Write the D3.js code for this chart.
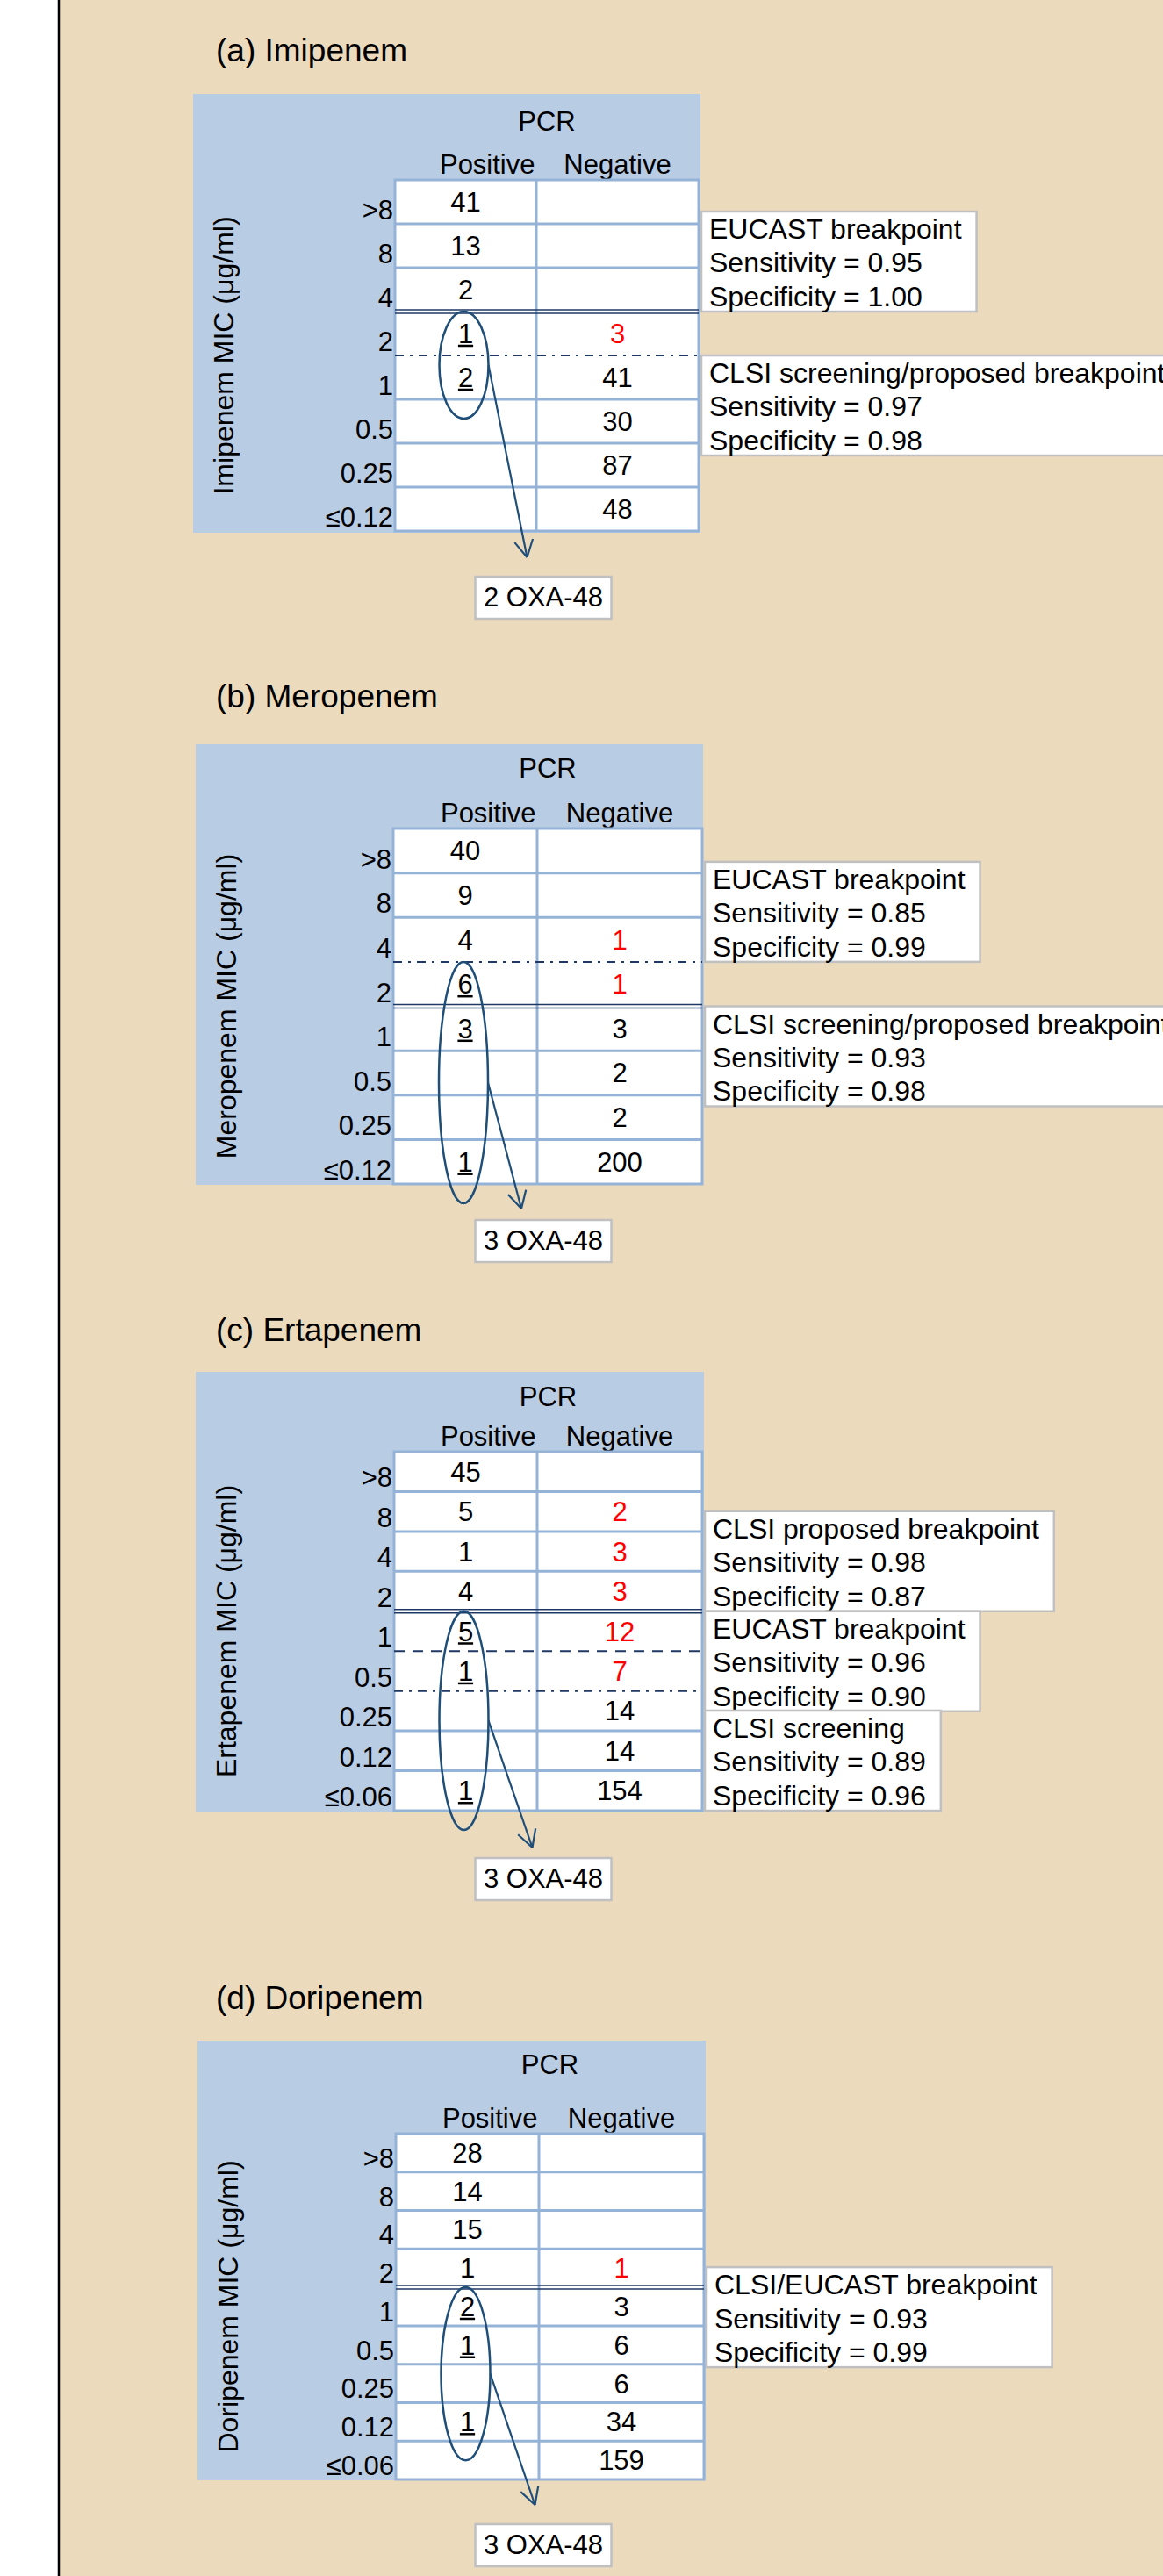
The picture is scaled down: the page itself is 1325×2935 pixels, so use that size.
<!DOCTYPE html>
<html>
<head>
<meta charset="utf-8">
<script src="https://cdn.jsdelivr.net/npm/d3@7"></script>
<style>
  body { margin: 0; background: #fff; }
  svg { display: block; }
  text { font-family: "Liberation Sans", Arial, sans-serif; fill: #000; }
</style>
</head>
<body>
<div id="chart"></div>
<script>
// ---- data ----
const columns = ["Positive", "Negative"];

const micHigh = [">8", "8", "4", "2", "1", "0.5", "0.25", "≤0.12"];
const micLow = [">8", "8", "4", "2", "1", "0.5", "0.25", "0.12", "≤0.06"];

const imipenemPos = [41, 13, 2, 1, 2, null, null, null];
const imipenemNeg = [null, null, null, 3, 41, 30, 87, 48];
const imipenemMarked = [0, 0, 0, 1, 1, 0, 0, 0];

const meropenemPos = [40, 9, 4, 6, 3, null, null, 1];
const meropenemNeg = [null, null, 1, 1, 3, 2, 2, 200];
const meropenemMarked = [0, 0, 0, 1, 1, 0, 0, 1];

const ertapenemPos = [45, 5, 1, 4, 5, 1, null, null, 1];
const ertapenemNeg = [null, 2, 3, 3, 12, 7, 14, 14, 154];
const ertapenemMarked = [0, 0, 0, 0, 1, 1, 0, 0, 1];

const doripenemPos = [28, 14, 15, 1, 2, 1, null, 1, null];
const doripenemNeg = [null, null, null, 1, 3, 6, 6, 34, 159];
const doripenemMarked = [0, 0, 0, 0, 1, 1, 0, 1, 0];

// breakpoint line sits on top of the row "above"
const imipenemBreaks = [
  { above: "2", style: "double", label: "EUCAST breakpoint", sens: "0.95", spec: "1.00" },
  { above: "1", style: "dashdot", label: "CLSI screening/proposed breakpoint", sens: "0.97", spec: "0.98" }
];
const meropenemBreaks = [
  { above: "2", style: "dashdot", label: "EUCAST breakpoint", sens: "0.85", spec: "0.99" },
  { above: "1", style: "double", label: "CLSI screening/proposed breakpoint", sens: "0.93", spec: "0.98" }
];
const ertapenemBreaks = [
  { above: "1", style: "double", label: "CLSI proposed breakpoint", sens: "0.98", spec: "0.87" },
  { above: "0.5", style: "dashed", label: "EUCAST breakpoint", sens: "0.96", spec: "0.90" },
  { above: "0.25", style: "dashdot", label: "CLSI screening", sens: "0.89", spec: "0.96" }
];
const doripenemBreaks = [
  { above: "1", style: "double", label: "CLSI/EUCAST breakpoint", sens: "0.93", spec: "0.99" }
];

const oxaCounts = [2, 3, 3, 3];

const panels = [
  { title: "(a) Imipenem", drug: "Imipenem", mic: micHigh, pos: imipenemPos, neg: imipenemNeg, marked: imipenemMarked, breaks: imipenemBreaks, oxa: oxaCounts[0] },
  { title: "(b) Meropenem", drug: "Meropenem", mic: micHigh, pos: meropenemPos, neg: meropenemNeg, marked: meropenemMarked, breaks: meropenemBreaks, oxa: oxaCounts[1] },
  { title: "(c) Ertapenem", drug: "Ertapenem", mic: micLow, pos: ertapenemPos, neg: ertapenemNeg, marked: ertapenemMarked, breaks: ertapenemBreaks, oxa: oxaCounts[2] },
  { title: "(d) Doripenem", drug: "Doripenem", mic: micLow, pos: doripenemPos, neg: doripenemNeg, marked: doripenemMarked, breaks: doripenemBreaks, oxa: oxaCounts[3] }
];

// ---- layout ----
const W = 1325, H = 2935;
const BEIGE = "#ecdabd", BLUE = "#b8cce4", GRID = "#95b3d7", NAVY = "#1f3864", INK = "#1f4e79";

const layout = [
  { titleY: 70, boxLeft: 220, boxRight: 798, boxTop: 107, boxBottom: 607, left: 450, mid: 611, right: 796,
    tableTop: 205, tableBottom: 605, pcrY: 149, headY: 198, arrowDx: 72, arrowDy: 30, oxaTop: 657,
    notes: [{ ref: 0, align: "bottom" }, { ref: 1, align: "top" }] },
  { titleY: 806, boxLeft: 223, boxRight: 801, boxTop: 848, boxBottom: 1350, left: 448, mid: 612, right: 800,
    tableTop: 944, tableBottom: 1349, pcrY: 886, headY: 937, arrowDx: 66, arrowDy: 28, oxaTop: 1390,
    notes: [{ ref: 0, align: "bottom" }, { ref: 1, align: "top" }] },
  { titleY: 1528, boxLeft: 223, boxRight: 802, boxTop: 1563, boxBottom: 2064, left: 449, mid: 612, right: 800,
    tableTop: 1654, tableBottom: 2063, pcrY: 1602, headY: 1647, arrowDx: 78, arrowDy: 42, oxaTop: 2117,
    notes: [{ ref: 0, align: "bottom" }, { ref: 0, align: "top" }, { ref: "end", align: "bottom" }] },
  { titleY: 2289, boxLeft: 225, boxRight: 804, boxTop: 2325, boxBottom: 2826, left: 451, mid: 614, right: 802,
    tableTop: 2431, tableBottom: 2825, pcrY: 2363, headY: 2424, arrowDx: 79, arrowDy: 29, oxaTop: 2876,
    notes: [{ ref: 0, align: "top", shift: -23 }] }
];

const FS = 31, NOTE_FS = 32, TITLE_FS = 37, AXIS_FS = 32, LINE_H = 38.4, NOTE_H = 114;

const svg = d3.select("#chart").append("svg")
  .attr("width", W)
  .attr("height", H);

svg.append("rect").attr("width", W).attr("height", H).attr("fill", "#fff");
svg.append("rect").attr("x", 67).attr("width", W - 67).attr("height", H).attr("fill", BEIGE);
svg.append("line")
  .attr("x1", 67).attr("x2", 67).attr("y1", 0).attr("y2", H)
  .attr("stroke", "#000").attr("stroke-width", 2.5);

function hline(g, x1, x2, yy, style) {
  if (style === "double") {
    [-2, 2].forEach(o => g.append("line")
      .attr("x1", x1).attr("x2", x2).attr("y1", yy + o).attr("y2", yy + o)
      .attr("stroke", NAVY).attr("stroke-width", 1.5));
  } else {
    g.append("line")
      .attr("x1", x1).attr("x2", x2).attr("y1", yy).attr("y2", yy)
      .attr("stroke", style === "grid" ? GRID : NAVY)
      .attr("stroke-width", style === "grid" ? 3 : 2)
      .attr("stroke-dasharray", style === "dashdot" ? "10,7,3,7" : style === "dashed" ? "12,9" : null);
  }
}

panels.forEach((p, i) => {
  const L = layout[i];
  const g = svg.append("g");

  const y = d3.scaleBand().domain(p.mic).range([L.tableTop, L.tableBottom]);
  const x = d3.scaleOrdinal().domain(columns).range([(L.left + L.mid) / 2, (L.mid + L.right) / 2]);
  const bw = y.bandwidth();

  g.append("text")
    .attr("x", 246).attr("y", L.titleY)
    .attr("font-size", TITLE_FS)
    .text(p.title);

  g.append("rect")
    .attr("x", L.boxLeft).attr("y", L.boxTop)
    .attr("width", L.boxRight - L.boxLeft).attr("height", L.boxBottom - L.boxTop)
    .attr("fill", BLUE);

  g.append("text")
    .attr("x", (L.left + L.right) / 2).attr("y", L.pcrY)
    .attr("text-anchor", "middle").attr("font-size", FS)
    .text("PCR");
  g.append("text")
    .attr("x", L.mid - 1.5).attr("y", L.headY)
    .attr("text-anchor", "end").attr("font-size", FS)
    .text(columns[0]);
  g.append("text")
    .attr("x", x(columns[1])).attr("y", L.headY)
    .attr("text-anchor", "middle").attr("font-size", FS)
    .text(columns[1]);

  // y axis title
  g.append("text")
    .attr("transform", `translate(${L.boxLeft + 46},${(L.tableTop + L.tableBottom) / 2}) rotate(-90)`)
    .attr("text-anchor", "middle").attr("font-size", AXIS_FS)
    .text(`${p.drug} MIC (μg/ml)`);

  // table body
  g.append("rect")
    .attr("x", L.left).attr("y", L.tableTop)
    .attr("width", L.right - L.left).attr("height", L.tableBottom - L.tableTop)
    .attr("fill", "#fff").attr("stroke", GRID).attr("stroke-width", 3);

  const cuts = new Set(p.breaks.map(b => b.above));
  p.mic.slice(1).forEach(m => {
    if (!cuts.has(m)) hline(g, L.left, L.right, y(m), "grid");
  });
  g.append("line")
    .attr("x1", L.mid).attr("x2", L.mid).attr("y1", L.tableTop).attr("y2", L.tableBottom)
    .attr("stroke", GRID).attr("stroke-width", 3);
  p.breaks.forEach(b => hline(g, L.left, L.right, y(b.above), b.style));

  // row labels
  g.selectAll(".mic").data(p.mic).enter().append("text")
    .attr("x", L.left - 2).attr("y", d => y(d) + bw - 5)
    .attr("text-anchor", "end").attr("font-size", FS)
    .text(d => d);

  const lowestCut = d3.max(p.breaks, b => p.mic.indexOf(b.above));

  // positive column
  p.mic.forEach((m, k) => {
    const v = p.pos[k];
    if (v == null) return;
    const t = g.append("text")
      .attr("x", x(columns[0])).attr("y", y(m) + bw / 2 + 11)
      .attr("text-anchor", "middle").attr("font-size", FS)
      .text(v);
    if (p.marked[k]) {
      const w = t.node().getComputedTextLength();
      g.append("line")
        .attr("x1", x(columns[0]) - w / 2).attr("x2", x(columns[0]) + w / 2)
        .attr("y1", y(m) + bw / 2 + 14).attr("y2", y(m) + bw / 2 + 14)
        .attr("stroke", "#000").attr("stroke-width", 2.5);
    }
  });

  // negative column, red above the lowest cut-off
  p.mic.forEach((m, k) => {
    const v = p.neg[k];
    if (v == null) return;
    g.append("text")
      .attr("x", x(columns[1])).attr("y", y(m) + bw / 2 + 11)
      .attr("text-anchor", "middle").attr("font-size", FS)
      .style("fill", k < lowestCut ? "#ff0000" : "#000")
      .text(v);
  });

  // ellipse round the marked isolates
  const idx = p.marked.map((d, k) => d ? k : -1).filter(k => k >= 0);
  const eTop = y(p.mic[idx[0]]);
  const eBot = y(p.mic[idx[idx.length - 1]]) + bw + 22;
  const cx = x(columns[0]) - 2, cy = (eTop + eBot) / 2, rx = 28, ry = (eBot - eTop) / 2;
  g.append("ellipse")
    .attr("cx", cx).attr("cy", cy).attr("rx", rx).attr("ry", ry)
    .attr("fill", "none").attr("stroke", INK).attr("stroke-width", 2.5);

  // arrow to the OXA-48 box
  const x0 = cx + rx, y0 = cy, x1 = cx + L.arrowDx, y1 = L.tableBottom + L.arrowDy;
  g.append("line")
    .attr("x1", x0).attr("y1", y0).attr("x2", x1).attr("y2", y1)
    .attr("stroke", INK).attr("stroke-width", 2.2);
  const ang = Math.atan2(y1 - y0, x1 - x0);
  [-0.5, 0.5].forEach(a => {
    g.append("line")
      .attr("x1", x1).attr("y1", y1)
      .attr("x2", x1 - 22 * Math.cos(ang + a)).attr("y2", y1 - 22 * Math.sin(ang + a))
      .attr("stroke", INK).attr("stroke-width", 2.2);
  });

  g.append("rect")
    .attr("x", 619 - 77.5).attr("y", L.oxaTop)
    .attr("width", 155).attr("height", 48)
    .attr("fill", "#fff").attr("stroke", "#c0c0c0").attr("stroke-width", 2.5);
  g.append("text")
    .attr("x", 619).attr("y", L.oxaTop + 34)
    .attr("text-anchor", "middle").attr("font-size", FS)
    .text(`${p.oxa} OXA-48`);

  // sensitivity / specificity notes
  p.breaks.forEach((b, k) => {
    const pl = L.notes[k];
    const refY = pl.ref === "end" ? L.tableBottom : y(p.breaks[pl.ref].above);
    const top = (pl.align === "bottom" ? refY - NOTE_H : refY) + (pl.shift || 0);
    const left = L.right + 3;
    const ng = g.append("g");
    const box = ng.append("rect")
      .attr("x", left).attr("y", top).attr("height", NOTE_H)
      .attr("fill", "#fff").attr("stroke", "#c0c0c0").attr("stroke-width", 2.5);
    const lines = [b.label, `Sensitivity = ${b.sens}`, `Specificity = ${b.spec}`];
    let maxW = 0;
    lines.forEach((s, j) => {
      const t = ng.append("text")
        .attr("x", left + 9).attr("y", top + 31 + j * LINE_H)
        .attr("font-size", NOTE_FS)
        .text(s);
      maxW = Math.max(maxW, t.node().getComputedTextLength());
    });
    box.attr("width", maxW + 26);
  });
});
</script>
</body>
</html>
